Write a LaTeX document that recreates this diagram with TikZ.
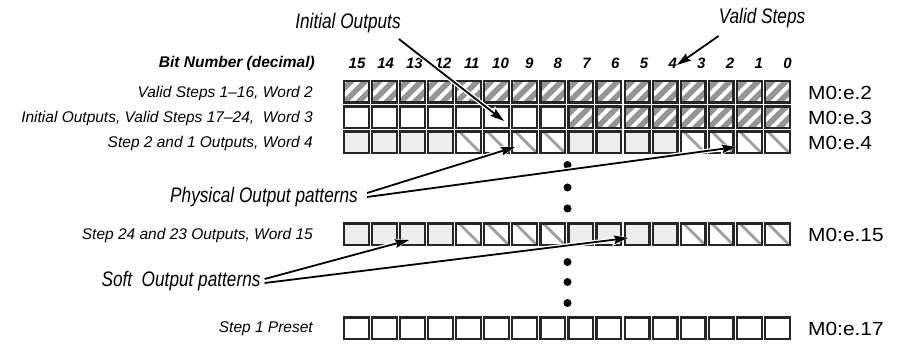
\documentclass[tikz,border=0pt]{standalone}
\usepackage{fontspec}
\setmainfont{Liberation Sans}
\usepackage{graphicx}
\usetikzlibrary{arrows.meta}
\definecolor{hatchA}{HTML}{959595}
\definecolor{hatchB}{HTML}{A0A0A0}
\definecolor{lightcell}{HTML}{ECEDEC}
\tikzset{
  cellbox/.style={draw=black!85, line width=2.2pt, minimum width=24.8pt, minimum height=21.5pt,
    inner sep=0pt, outer sep=0pt, anchor=north west},
  pW/.style={fill=white},
  pL/.style={fill=lightcell},
  pA/.style={fill=hatchA, path picture={
    \foreach \k in {-35,-21,-7,7,21}{
      \draw[white, line width=4pt] ([xshift=\k pt]path picture bounding box.south west) -- ++(34pt,34pt);}}},
  pB/.style={fill=white, path picture={
    \foreach \k in {-21,3,27}{
      \draw[hatchB, line width=2.8pt] ([xshift=\k pt]path picture bounding box.north west) -- ++(30pt,-30pt);}}},
  rowlabel/.style={anchor=east, inner sep=0pt, font=\fontsize{15.5}{18}\selectfont\itshape},
  wordlabel/.style={anchor=west, inner sep=0pt, font=\fontsize{19}{22}\selectfont},
  bitnum/.style={inner sep=0pt, font=\fontsize{15}{17}\selectfont\bfseries\itshape},
  callout/.style={inner sep=0pt, font=\fontsize{21}{24}\selectfont\itshape},
  dotmark/.style={circle, fill=black, inner sep=0pt, minimum size=8pt},
  arr/.style={line width=1.8pt, -{Stealth[length=14pt, width=8.5pt, inset=2pt]},
    preaction={draw=white, line width=4.4pt, -{Stealth[length=16pt, width=11.5pt, inset=2pt]}}},
}
\begin{document}
\begin{tikzpicture}[x=1pt, y=-1pt]
\path[use as bounding box] (0,0) rectangle (898,344);

% header
\node[anchor=east, inner sep=0pt, font=\fontsize{15.5}{18}\selectfont\bfseries\itshape] (hdr) at (315,63) {Bit Number (decimal)};
\foreach \i in {0,...,15}{
  \pgfmathtruncatemacro{\b}{15-\i}
  \node[bitnum] (bit\b) at ({357+28.7*\i},63) {\b};
}

% rows of cells
\foreach \s [count=\i from 0] in {pA,pA,pA,pA,pA,pA,pA,pA,pA,pA,pA,pA,pA,pA,pA,pA}
  \node[cellbox,\s] (ra\i) at ({344+28.06*\i},81) {};
\foreach \s [count=\i from 0] in {pW,pW,pW,pW,pW,pW,pW,pW,pA,pA,pA,pA,pA,pA,pA,pA}
  \node[cellbox,\s] (rb\i) at ({344+28.06*\i},106.5) {};
\foreach \s [count=\i from 0] in {pL,pL,pL,pL,pB,pB,pB,pB,pL,pL,pL,pL,pB,pB,pB,pB}
  \node[cellbox,\s] (rc\i) at ({344+28.06*\i},131.5) {};
\foreach \s [count=\i from 0] in {pL,pL,pL,pL,pB,pB,pB,pB,pL,pL,pL,pL,pB,pB,pB,pB}
  \node[cellbox,\s] (rd\i) at ({344+28.06*\i},223.5) {};
\foreach \s [count=\i from 0] in {pW,pW,pW,pW,pW,pW,pW,pW,pW,pW,pW,pW,pW,pW,pW,pW}
  \node[cellbox,\s] (re\i) at ({344+28.06*\i},317.5) {};

% row labels
\node[rowlabel] (la) at (313,93) {Valid Steps 1–16, Word 2};
\node[rowlabel] (lb) at (313,118) {Initial Outputs, Valid Steps 17–24,\ \ Word 3};
\node[rowlabel] (lc) at (313,143) {Step 2 and 1 Outputs, Word 4};
\node[rowlabel] (ld) at (313,235) {Step 24 and 23 Outputs, Word 15};
\node[rowlabel] (le) at (313,329) {Step 1 Preset};

% word labels
\node[wordlabel] (wa) at (808,93) {\scalebox{1.1}[1]{M0:e.2}};
\node[wordlabel] (wb) at (808,118) {\scalebox{1.1}[1]{M0:e.3}};
\node[wordlabel] (wc) at (808,143) {\scalebox{1.1}[1]{M0:e.4}};
\node[wordlabel] (wd) at (808,235) {\scalebox{1.1}[1]{M0:e.15}};
\node[wordlabel] (we) at (808,329) {\scalebox{1.1}[1]{M0:e.17}};

% dots
\node[dotmark] (d1) at (567.5,165) {};
\node[dotmark] (d2) at (567.5,187.5) {};
\node[dotmark] (d3) at (567.5,208.5) {};
\node[dotmark] (d4) at (567.5,262) {};
\node[dotmark] (d5) at (567.5,282) {};
\node[dotmark] (d6) at (567.5,303) {};

% callouts
\node[callout] (io) at (348,23) {\scalebox{0.82}[1]{Initial Outputs}};
\node[callout] (vs) at (762,18) {\scalebox{0.82}[1]{Valid Steps}};
\node[callout] (pop) at (264,197) {\scalebox{0.82}[1]{Physical Output patterns}};
\node[callout] (sop) at (181,281) {\scalebox{0.82}[1]{Soft\ \ Output patterns}};

\coordinate (tipIO) at (504,121);
\coordinate (tipVS) at (677,65);
\coordinate (tipP1) at (515,147);
\coordinate (tipP2) at (736,147);
\coordinate (tipS1) at (409,240);
\coordinate (tipS2) at (628,238);

\draw[arr] ([xshift=-2pt,yshift=-6pt]io.south east) -- (tipIO);
\draw[arr] ([yshift=-8pt]vs.south west) -- (tipVS);
\draw[arr] ([xshift=9pt,yshift=4pt]pop.east) -- (tipP1);
\draw[arr] ([xshift=9pt,yshift=0pt]pop.east) -- (tipP2);
\draw[arr] ([xshift=4pt,yshift=2pt]sop.east) -- (tipS1);
\draw[arr] ([xshift=4pt,yshift=-2pt]sop.east) -- (tipS2);
\end{tikzpicture}
\end{document}
